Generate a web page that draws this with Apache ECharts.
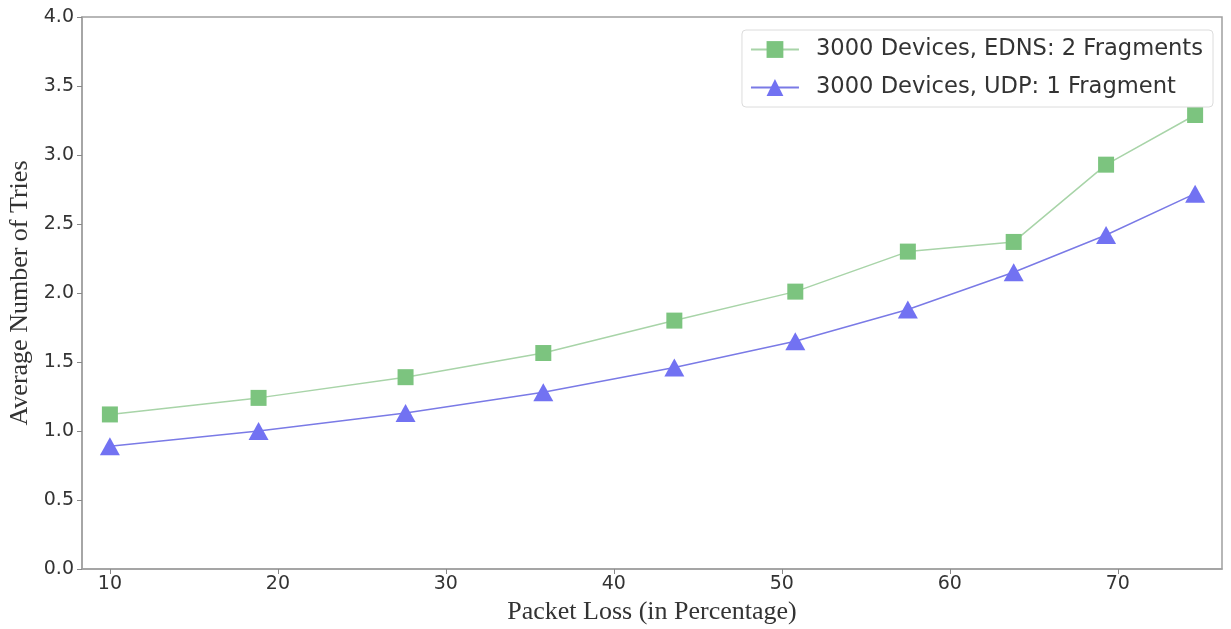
<!DOCTYPE html>
<html>
<head>
    <meta charset="utf-8">
    <script src="https://cdn.jsdelivr.net/npm/echarts@6/dist/echarts.min.js"></script>
    <style>
        html, body { margin: 0; padding: 0; background: #fff; }
        #chart { width: 1231px; height: 629px; }
    </style>
</head>
<body>
    <div id="chart"></div>
<script type="text/javascript">
    // packet loss (%) at each measurement
    var packetLoss = [10, 18.85, 27.6, 35.8, 43.6, 50.8, 57.5, 63.8, 69.3, 74.6];
    var ednsTries = [1.12, 1.24, 1.39, 1.565, 1.80, 2.01, 2.30, 2.37, 2.93, 3.29];
    var udpTries = [0.89, 1.0, 1.13, 1.28, 1.46, 1.65, 1.88, 2.15, 2.42, 2.72];
    var xTicks = [10, 20, 30, 40, 50, 60, 70];
    var seriesNames = ['3000 Devices, EDNS: 2 Fragments', '3000 Devices, UDP: 1 Fragment'];

    function pairs(xs, ys) {
        return xs.map(function (x, i) { return [x, ys[i]]; });
    }

    var chart = echarts.init(document.getElementById('chart'));

    var option = {
        backgroundColor: '#fff',
        animation: false,
        grid: {
            left: 82, right: 9, top: 17, bottom: 60,
            containLabel: false,
            outerBoundsMode: 'none',
            show: true,
            borderColor: '#a0a0a0',
            borderWidth: 1.5
        },
        legend: {
            right: 18,
            top: 30,
            orient: 'vertical',
            itemWidth: 48,
            itemHeight: 21,
            itemGap: 15,
            padding: [8, 10, 8, 8],
            backgroundColor: '#fff',
            borderColor: '#dcdcdc',
            borderWidth: 1,
            borderRadius: 4,
            textStyle: {
                fontFamily: 'DejaVu Sans', fontSize: 22.6, color: '#333',
                padding: [0, 0, 0, 12]
            },
            data: seriesNames
        },
        xAxis: {
            type: 'value',
            min: 8.34,
            max: 76.2,
            name: 'Packet Loss (in Percentage)',
            nameLocation: 'middle',
            nameGap: 20,
            nameTextStyle: { fontFamily: 'Liberation Serif', fontSize: 26, color: '#333' },
            axisLine: { lineStyle: { color: '#a0a0a0', width: 1.5 } },
            axisTick: { show: true, length: 5, customValues: xTicks, lineStyle: { color: '#888' } },
            axisLabel: {
                customValues: xTicks,
                fontFamily: 'DejaVu Sans', fontSize: 19, color: '#333', margin: 6
            },
            splitLine: { show: false }
        },
        yAxis: {
            type: 'value',
            min: 0,
            max: 4,
            interval: 0.5,
            name: 'Average Number of Tries',
            nameLocation: 'middle',
            nameGap: 48,
            nameTextStyle: { fontFamily: 'Liberation Serif', fontSize: 26, color: '#333' },
            axisLine: { show: true, lineStyle: { color: '#a0a0a0', width: 1.5 } },
            axisTick: { show: true, length: 5, lineStyle: { color: '#888' } },
            axisLabel: {
                fontFamily: 'DejaVu Sans', fontSize: 19, color: '#333', margin: 8,
                formatter: function (v) { return v.toFixed(1); }
            },
            splitLine: { show: false }
        },
        series: [
            {
                name: seriesNames[0],
                type: 'line',
                data: pairs(packetLoss, ednsTries),
                symbol: 'rect',
                symbolSize: 16,
                itemStyle: { color: '#7cc47f' },
                lineStyle: { color: '#a8d4a8', width: 1.5 }
            },
            {
                name: seriesNames[1],
                type: 'line',
                data: pairs(packetLoss, udpTries),
                symbol: 'triangle',
                symbolSize: [20, 18],
                itemStyle: { color: '#7272f2' },
                lineStyle: { color: '#7a7ae6', width: 1.5 }
            }
        ]
    };

    chart.setOption(option);
</script>
</body>
</html>
